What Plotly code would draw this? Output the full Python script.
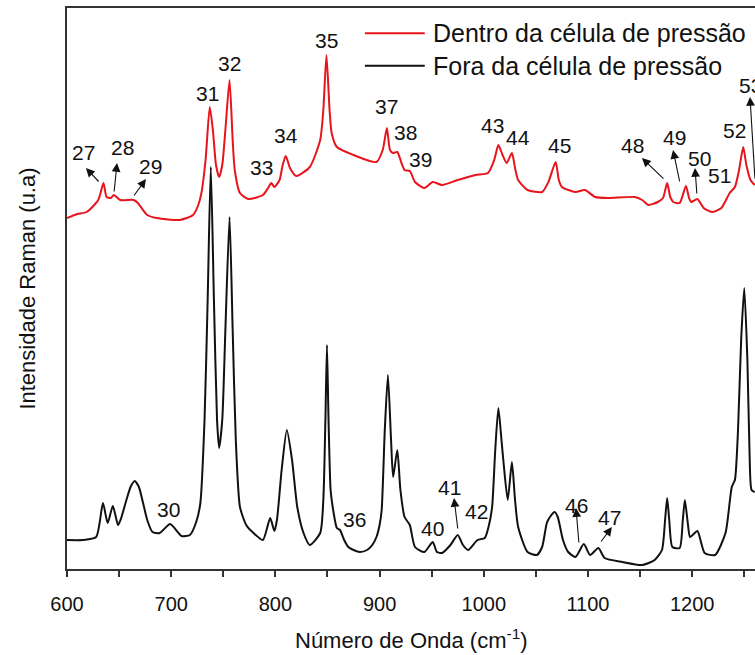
import plotly.graph_objects as go

# ---------------- data ----------------
# "Fora da célula de pressão" (black) spectrum
wn_fora = [600, 615, 628, 634.5, 639, 644, 649, 652, 657, 661, 665, 669, 673, 677, 682, 689, 699, 710, 718, 724,
           728, 732, 735, 738, 741, 744, 746, 749, 752, 756, 759, 762, 766, 772, 779, 788, 795, 799, 801.5, 806,
           811, 816, 821, 827, 833, 843, 846, 848, 849.5, 851, 853, 855, 859, 862, 866, 870, 875, 881, 888, 893,
           897, 900, 902, 905, 908, 911, 913, 917, 920, 924, 929, 934, 943, 951, 955, 960, 968, 975, 980, 985,
           994, 1001, 1005, 1008, 1011, 1014, 1017, 1019, 1023, 1027, 1030, 1033, 1042, 1051, 1056, 1060.5, 1063.5, 1068, 1071, 1076,
           1081, 1088, 1096, 1102, 1110, 1116, 1133, 1152, 1164, 1171, 1174, 1176, 1178, 1181, 1188, 1191, 1193, 1196, 1198, 1205,
           1212, 1222, 1232, 1238, 1241, 1244, 1247, 1250, 1253, 1255, 1257, 1260]
int_fora = [29, 29, 32, 66, 46, 63, 44, 51, 69, 82, 88, 82, 66, 49, 37, 36, 45, 33, 34, 47,
            66, 149, 269, 402, 269, 149, 121, 149, 239, 352, 239, 129, 62, 44, 36, 29, 51, 38, 49, 99,
            139, 109, 62, 36, 24, 36, 69, 149, 224, 149, 79, 62, 41, 39, 29, 22, 19, 17, 19, 24,
            32, 44, 59, 139, 194, 129, 92, 119, 79, 52, 44, 22, 17, 27, 17, 16, 24, 34, 24, 19,
            29, 31, 44, 62, 119, 161, 129, 106, 69, 107, 69, 42, 17, 14, 22, 46, 52, 57, 52, 29,
            17, 12, 25, 14, 21, 11, 7, 4, 9, 19, 49, 71, 49, 22, 21, 49, 69, 44, 32, 38,
            16, 14, 36, 82, 89, 139, 229, 281, 209, 119, 79, 77]

# "Dentro da célula de pressão" (red) spectrum
wn_dentro = [600, 610, 619, 630, 635, 638, 642, 645, 651, 664, 668, 677, 686, 708, 721, 726, 729, 733, 737, 740,
             743, 746, 749, 752, 756, 759, 761, 766, 774, 788, 793, 796, 799, 804, 807, 810, 814, 820, 833, 843,
             846, 849, 852, 854, 859, 875, 897, 903, 907, 910, 913, 917, 921, 924, 929, 934, 943, 951, 960, 975,
             992, 1004, 1010, 1014, 1018, 1022, 1027, 1030, 1033, 1042, 1056, 1062, 1069, 1072, 1075, 1088, 1097, 1107, 1119, 1145,
             1152, 1158, 1167, 1172, 1176, 1179, 1182, 1188, 1194, 1197, 1199, 1205, 1211, 1219, 1228, 1236, 1241, 1245, 1249, 1252,
             1256, 1260]
int_dentro = [351, 355, 357, 369, 386, 372, 371, 374, 369, 369, 366, 354, 351, 349, 354, 364, 376, 409, 462, 439,
              404, 392, 404, 439, 489, 429, 399, 376, 370, 374, 381, 386, 382, 389, 404, 413, 401, 393, 402, 429,
              459, 514, 459, 436, 422, 414, 407, 419, 441, 419, 416, 417, 406, 399, 398, 387, 381, 387, 384, 389,
              394, 396, 409, 424, 414, 406, 416, 401, 389, 379, 377, 387, 407, 389, 382, 377, 379, 372, 371, 372,
              369, 364, 367, 371, 386, 372, 367, 366, 383, 371, 367, 370, 361, 357, 361, 376, 382, 399, 422, 404,
              389, 384]

series_names = ["Dentro da célula de pressão", "Fora da célula de pressão"]

# peak labels (text, wavenumber, intensity)
red_labels = ["27", "28", "29", "31", "32", "33", "34", "35", "37", "38", "39", "43", "44", "45",
              "48", "49", "50", "51", "52", "53"]
red_label_x = [616.3, 652.8, 679.7, 735.3, 755.5, 787.1, 810.2, 848.6, 906.2, 924.4, 938.8, 1008.8, 1032.8, 1073.1,
               1143.2, 1183.5, 1207.5, 1226.7, 1241.1, 1256]
red_label_y = [417, 422, 403, 476, 506, 402, 434, 529, 463, 437, 410, 444, 432, 424,
               424, 432, 411, 394, 439, 484]

black_labels = ["30", "36", "40", "41", "42", "46", "47"]
black_label_x = [697, 876, 951, 967.5, 993.4, 1089.4, 1121]
black_label_y = [60, 50, 41, 82, 58, 64, 52]

# arrows: tail (on the peak) -> head (at the label)
arrow_tail_x = [631.7, 645.1, 663.3, 975.2, 1091.4, 1111.5, 1173.9, 1188.3, 1204.6, 1260.3]
arrow_tail_y = [386, 376, 372, 39, 25, 26, 389, 386, 374, 389]
arrow_head_x = [618.2, 648.0, 675.8, 971.4, 1088.5, 1123.0, 1151.8, 1181.6, 1202.7, 1255.5]
arrow_head_y = [401, 406, 390, 71, 61, 42, 411, 419, 401, 472]

x_ticks = [600, 700, 800, 900, 1000, 1100, 1200]

# ---------------- figure ----------------
FONT = "Arial, Liberation Sans, Helvetica, sans-serif"
RED = "#e8141c"
BLACK = "#111111"
AXIS = "#333333"

fig = go.Figure()
fig.add_trace(go.Scatter(x=wn_fora, y=int_fora, mode="lines", name=series_names[1],
                         line=dict(color=BLACK, width=2, shape="spline", smoothing=0.6)))
fig.add_trace(go.Scatter(x=wn_dentro, y=int_dentro, mode="lines", name=series_names[0],
                         line=dict(color=RED, width=2, shape="spline", smoothing=0.6)))

annots = []
for t, x, y in zip(red_labels, red_label_x, red_label_y):
    annots.append(dict(x=x, y=y, xref="x", yref="y", text=t, showarrow=False,
                       font=dict(family=FONT, size=21, color="#111111")))
for t, x, y in zip(black_labels, black_label_x, black_label_y):
    annots.append(dict(x=x, y=y, xref="x", yref="y", text=t, showarrow=False,
                       font=dict(family=FONT, size=21, color="#111111")))
for tx, ty, hx, hy in zip(arrow_tail_x, arrow_tail_y, arrow_head_x, arrow_head_y):
    annots.append(dict(x=hx, y=hy, ax=tx, ay=ty, xref="x", yref="y", axref="x", ayref="y",
                       text="", showarrow=True, arrowhead=2, arrowsize=1.6, arrowwidth=1.1,
                       arrowcolor="#111111", standoff=0, startstandoff=0))

# axis titles
annots.append(dict(x=0.5, y=-0.125, xref="paper", yref="paper", xanchor="center", yanchor="middle",
                   text="Número de Onda (cm<sup>-1</sup>)", showarrow=False,
                   font=dict(family=FONT, size=22, color="#111111")))
annots.append(dict(x=-0.058, y=0.5, xref="paper", yref="paper", xanchor="center", yanchor="middle",
                   text="Intensidade Raman (u.a)", textangle=-90, showarrow=False,
                   font=dict(family=FONT, size=22, color="#111111")))

# legend (drawn manually)
leg_y = [0.955, 0.897]
leg_col = [RED, BLACK]
shapes = []
for name, ly, c in zip(series_names, leg_y, leg_col):
    shapes.append(dict(type="line", xref="paper", yref="paper", x0=0.433, x1=0.520, y0=ly, y1=ly,
                       line=dict(color=c, width=2)))
    annots.append(dict(x=0.529, y=ly, xref="paper", yref="paper", xanchor="left", yanchor="middle",
                       text=name, showarrow=False, font=dict(family=FONT, size=25, color="#111111")))

fig.update_layout(
    width=755, height=655,
    margin=dict(l=67, r=0, t=8, b=86),
    paper_bgcolor="white", plot_bgcolor="white",
    showlegend=False,
    annotations=annots, shapes=shapes,
    font=dict(family=FONT, color="#111111"),
)
fig.update_xaxes(range=[600, 1260.3], tickvals=x_ticks, ticks="outside", ticklen=6, tickwidth=1.5,
                 tickcolor=AXIS, showline=True, linecolor=AXIS, linewidth=2, mirror=True,
                 showgrid=False, zeroline=False, tickfont=dict(family=FONT, size=20, color="#111111"),
                 ticklabelstandoff=10,
                 minor=dict(dtick=50, tick0=600, ticks="outside", ticklen=6, tickwidth=1.5, tickcolor=AXIS,
                            showgrid=False))
fig.update_yaxes(range=[0, 561], showticklabels=False, ticks="", showline=True, linecolor=AXIS,
                 linewidth=2, mirror=False, showgrid=False, zeroline=False)

fig.write_html("out.html")
